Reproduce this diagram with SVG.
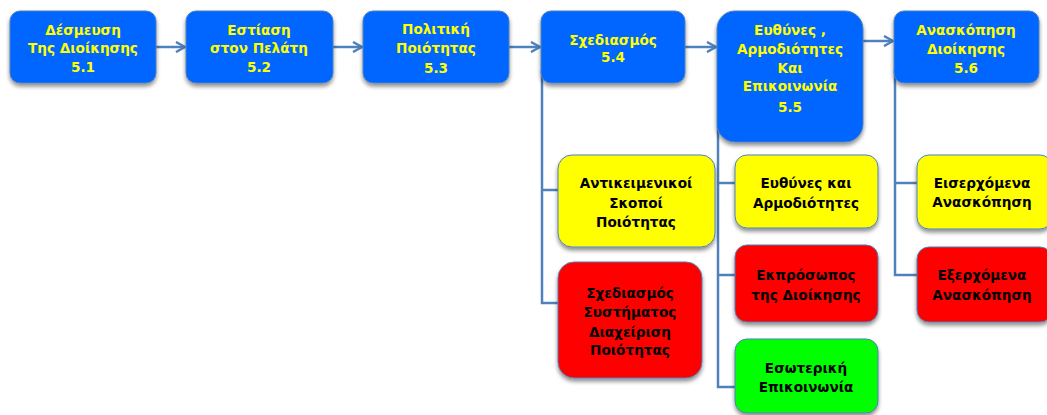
<svg xmlns="http://www.w3.org/2000/svg" width="1047" height="415" viewBox="0 0 1047 415">
  <style>
    .box { stroke: #4f81bd; stroke-width: 1; filter: url(#shadow); }
    .blue { fill: #0066ff; }
    .yellow { fill: #ffff00; }
    .red { fill: #ff0000; }
    .green { fill: #00ff00; }
    text { font-family: "DejaVu Sans", "Liberation Sans", sans-serif; font-weight: bold; font-size: 13.6px; text-anchor: middle; }
    .lt { fill: #ffff00; }
    .dk { fill: #000000; }
    .conn { fill: none; stroke: #4f81bd; stroke-width: 2.5; }
  </style>
  <defs>
    <filter id="shadow" x="-10%" y="-10%" width="120%" height="130%">
      <feGaussianBlur in="SourceAlpha" stdDeviation="2"/>
      <feOffset dx="0" dy="3" result="b"/>
      <feComponentTransfer><feFuncA type="linear" slope="0.45"/></feComponentTransfer>
      <feMerge><feMergeNode/><feMergeNode in="SourceGraphic"/></feMerge>
    </filter>
    <marker id="arrow" viewBox="0 0 12 12" refX="11" refY="6" markerWidth="12" markerHeight="12" markerUnits="userSpaceOnUse" orient="auto">
      <path d="M2,1 L11,6 L2,11" fill="none" stroke="#4f81bd" stroke-width="2.5"/>
    </marker>
  </defs>

  <g id="connectors">
    <line class="conn" x1="156" y1="47" x2="185" y2="47" marker-end="url(#arrow)"/>
    <line class="conn" x1="333" y1="47" x2="362" y2="47" marker-end="url(#arrow)"/>
    <line class="conn" x1="509" y1="47" x2="540" y2="47" marker-end="url(#arrow)"/>
    <line class="conn" x1="685" y1="47" x2="716" y2="47" marker-end="url(#arrow)"/>
    <line class="conn" x1="863" y1="41" x2="893" y2="41" marker-end="url(#arrow)"/>
    <path class="conn" d="M542,70 V303 H558 M542,190 H558"/>
    <path class="conn" d="M718,125 V387 H735 M718,183 H735 M718,275 H735"/>
    <path class="conn" d="M895,70 V275 H917 M895,183 H917"/>
  </g>

  <g id="n51">
    <rect class="box blue" x="10" y="11" width="146" height="72" rx="10"/>
    <text class="lt" x="83" y="35">Δέσμευση</text>
    <text class="lt" x="83" y="53">Της Διοίκησης</text>
    <text class="lt" x="83" y="72">5.1</text>
  </g>
  <g id="n52">
    <rect class="box blue" x="186" y="11" width="147" height="72" rx="10"/>
    <text class="lt" x="259" y="35">Εστίαση</text>
    <text class="lt" x="259" y="53">στον Πελάτη</text>
    <text class="lt" x="259" y="72">5.2</text>
  </g>
  <g id="n53">
    <rect class="box blue" x="363" y="11" width="146" height="72" rx="10"/>
    <text class="lt" x="436" y="34">Πολιτική</text>
    <text class="lt" x="436" y="53">Ποιότητας</text>
    <text class="lt" x="436" y="73">5.3</text>
  </g>
  <g id="n54">
    <rect class="box blue" x="541" y="11" width="144" height="72" rx="10"/>
    <text class="lt" x="613" y="45">Σχεδιασμός</text>
    <text class="lt" x="613" y="62">5.4</text>
  </g>
  <g id="n55">
    <rect class="box blue" x="717" y="11" width="146" height="131" rx="18"/>
    <text class="lt" x="790" y="35">Ευθύνες ,</text>
    <text class="lt" x="790" y="54">Αρμοδιότητες</text>
    <text class="lt" x="790" y="73">Και</text>
    <text class="lt" x="790" y="91">Επικοινωνία</text>
    <text class="lt" x="790" y="112">5.5</text>
  </g>
  <g id="n56">
    <rect class="box blue" x="894" y="11" width="145" height="72" rx="10"/>
    <text class="lt" x="966" y="35">Ανασκόπηση</text>
    <text class="lt" x="966" y="54">Διοίκησης</text>
    <text class="lt" x="966" y="73">5.6</text>
  </g>

  <g id="n541">
    <rect class="box yellow" x="558" y="155" width="157" height="92" rx="14"/>
    <text class="dk" x="636" y="188">Αντικειμενικοί</text>
    <text class="dk" x="636" y="208">Σκοποί</text>
    <text class="dk" x="636" y="227">Ποιότητας</text>
  </g>
  <g id="n542">
    <rect class="box red" x="558" y="262" width="144" height="116" rx="16"/>
    <text class="dk" x="630" y="298">Σχεδιασμός</text>
    <text class="dk" x="630" y="317">Συστήματος</text>
    <text class="dk" x="630" y="337">Διαχείριση</text>
    <text class="dk" x="630" y="355">Ποιότητας</text>
  </g>
  <g id="n551">
    <rect class="box yellow" x="735" y="155" width="143" height="73" rx="12"/>
    <text class="dk" x="806" y="188">Ευθύνες και</text>
    <text class="dk" x="806" y="208">Αρμοδιότητες</text>
  </g>
  <g id="n552">
    <rect class="box red" x="735" y="245" width="143" height="77" rx="12"/>
    <text class="dk" x="806" y="280">Εκπρόσωπος</text>
    <text class="dk" x="806" y="300">της Διοίκησης</text>
  </g>
  <g id="n553">
    <rect class="box green" x="735" y="339" width="143" height="74" rx="12"/>
    <text class="dk" x="806" y="373">Εσωτερική</text>
    <text class="dk" x="806" y="392">Επικοινωνία</text>
  </g>
  <g id="n561">
    <rect class="box yellow" x="917" y="155" width="135" height="74" rx="12"/>
    <text class="dk" x="982" y="188">Εισερχόμενα</text>
    <text class="dk" x="982" y="207">Ανασκόπηση</text>
  </g>
  <g id="n562">
    <rect class="box red" x="917" y="247" width="135" height="75" rx="12"/>
    <text class="dk" x="982" y="280">Εξερχόμενα</text>
    <text class="dk" x="982" y="300">Ανασκόπηση</text>
  </g>
</svg>
